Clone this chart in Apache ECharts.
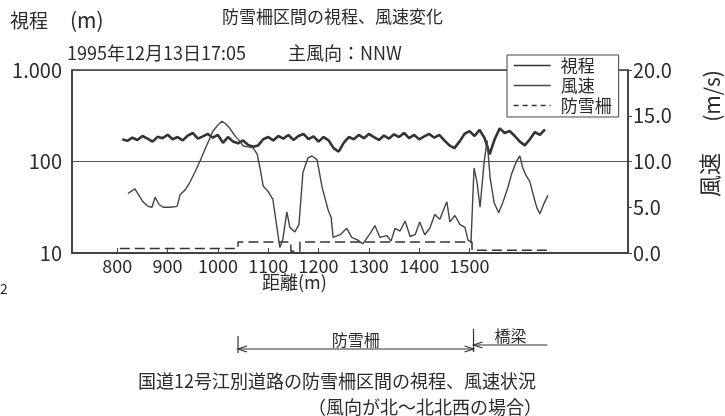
<!DOCTYPE html>
<html><head><meta charset="utf-8">
<script src="https://cdn.jsdelivr.net/npm/echarts@6/dist/echarts.min.js"></script>
<style>html,body{margin:0;padding:0;background:#fff}#c{width:725px;height:416px}</style>
</head><body><div id="c"></div>
<script>
// ---- data ----
const xTickValues = [800, 900, 1000, 1100, 1200, 1300, 1400, 1500];
const windTickValues = [0, 5, 10, 15, 20];
const visDist = [810,820,830,840,850,860,870,880,890,900,910,920,930,940,950,960,970,980,990,1000,
  1010,1020,1030,1040,1050,1060,1070,1080,1090,1100,1110,1120,1130,1140,1150,1160,1170,1180,1190,1200,
  1210,1220,1230,1240,1250,1260,1270,1280,1290,1300,1310,1320,1330,1340,1350,1360,1370,1380,1390,1400,
  1410,1420,1430,1440,1450,1460,1470,1480,1490,1500,1510,1520,1530,1540,1550,1560,1570,1580,1590,1600,
  1610,1620,1630,1640,1650];
const visibility = [175,168,182,172,190,178,165,186,180,196,175,185,170,192,205,178,188,200,182,195,
  160,185,165,158,170,152,145,150,175,185,170,190,178,195,172,190,200,176,188,165,
  185,170,140,128,160,185,175,195,180,200,185,172,192,178,198,185,205,180,195,175,
  188,200,182,195,170,150,140,165,200,215,190,222,180,120,175,230,205,215,190,165,
  150,175,210,195,225];
const windDist = [821,835,851,861,869,875,883,891,905,919,925,935,944,954,964,978,990,1000,1008,1016,
  1024,1034,1044,1050,1060,1070,1078,1084,1090,1099,1109,1117,1123,1129,1137,1143,1153,1161,1169,1179,
  1187,1197,1207,1219,1225,1229,1243,1256,1266,1278,1288,1302,1312,1322,1336,1344,1352,1362,1372,1382,
  1392,1401,1411,1421,1431,1441,1449,1455,1461,1471,1481,1491,1497,1503,1509,1515,1521,1529,1535,1541,
  1549,1558,1566,1576,1584,1594,1600,1606,1612,1620,1626,1634,1640,1648,1656];
const windSpeed = [6.5,7.0,5.6,5.1,5.0,6.1,5.3,5.0,5.0,5.1,6.4,6.9,7.7,8.8,10.0,11.8,13.3,14.0,14.4,14.1,
  13.6,12.8,12.2,11.7,11.6,11.5,10.8,9.2,7.3,6.8,5.9,2.9,0.6,1.5,4.5,2.8,2.3,3.1,8.8,10.4,
  10.6,10.2,7.2,4.7,3.9,1.7,2.0,2.7,1.7,1.4,1.0,2.1,3.0,1.7,1.9,1.3,2.7,2.4,3.5,1.8,
  2.0,3.4,2.0,2.7,4.2,3.7,4.8,5.6,3.4,4.1,3.1,2.8,1.4,1.2,9.3,7.7,5.0,9.9,12.3,8.2,
  5.5,4.4,5.5,7.1,8.7,10.1,10.6,9.3,8.5,7.8,6.5,4.9,4.3,5.4,6.3];
const fenceDist = [805, 1040, 1145, 1163, 1505, 1654];
const fenceLevel = [0.5, 1.2, 0.2, 1.2, 0.3, 0.3];
const sectionNames = ['防雪柵', '橋梁'];
const sectionBounds = [1040, 1508, 1655];

// ---- chart ----
const FONT = '"Noto Sans CJK JP", "Noto Sans", sans-serif';
const INK = '#2a2a2a';
const chart = echarts.init(document.getElementById('c'), null, {renderer: 'canvas'});
const zip = (a, b) => a.map((v, i) => [v, b[i]]);
const noSym = {color: 'rgba(0,0,0,0)', borderColor: 'rgba(0,0,0,0)', borderWidth: 0, opacity: 0};

const option = {
  animation: false,
  backgroundColor: '#fff',
  textStyle: {fontFamily: FONT, color: INK},
  grid: {left: 72, right: 97, top: 70, bottom: 163, show: true, borderColor: '#3a3a3a', borderWidth: 1.5, backgroundColor: 'transparent'},
  legend: {
    left: 507, top: 55, orient: 'vertical', padding: [2, 7, 3, 6], itemGap: 3,
    itemWidth: 37, itemHeight: 14, backgroundColor: '#fff', borderColor: '#444', borderWidth: 1,
    textStyle: {fontFamily: FONT, fontSize: 17, color: INK, padding: [0, 0, 0, 5]},
    itemStyle: noSym,
    data: [
      {name: '視程', lineStyle: {width: 1.3}, itemStyle: noSym},
      {name: '風速', lineStyle: {width: 1.3}, itemStyle: noSym},
      {name: '防雪柵', lineStyle: {width: 1.3, type: [5, 4]}, itemStyle: noSym}
    ]
  },
  xAxis: {
    type: 'value', min: 710, max: 1815,
    axisLine: {show: true, lineStyle: {color: '#3a3a3a', width: 1.5}},
    axisTick: {show: true, inside: true, length: 5, customValues: xTickValues, lineStyle: {color: '#444'}},
    axisLabel: {customValues: xTickValues, fontSize: 18, color: INK, margin: 4, fontFamily: FONT,
      formatter: v => String(v)},
    splitLine: {show: false}
  },
  yAxis: [
    {
      type: 'log', logBase: 10, min: 10, max: 1000,
      axisLine: {show: true, lineStyle: {color: '#3a3a3a', width: 1.5}},
      axisTick: {show: false},
      axisLabel: {fontSize: 20, color: INK, margin: 10, fontFamily: FONT,
        formatter: v => v >= 1000 ? '1.000' : String(v)},
      splitLine: {show: true, lineStyle: {color: '#555', width: 1}},
      minorTick: {show: false}, minorSplitLine: {show: false}
    },
    {
      type: 'value', min: 0, max: 20, interval: 5, position: 'right',
      axisLine: {show: true, lineStyle: {color: '#3a3a3a', width: 1.5}},
      axisTick: {show: true, length: 4, lineStyle: {color: '#444'}},
      axisLabel: {fontSize: 20, color: INK, margin: 5, fontFamily: FONT, formatter: v => v.toFixed(1)},
      splitLine: {show: false}
    }
  ],
  series: [
    {name: '視程', type: 'line', yAxisIndex: 0, data: zip(visDist, visibility), symbol: 'none',
      lineStyle: {color: '#333', width: 2.6}, itemStyle: {color: '#333'}, z: 3},
    {name: '風速', type: 'line', yAxisIndex: 1, data: zip(windDist, windSpeed), symbol: 'none',
      lineStyle: {color: '#444', width: 1.4}, itemStyle: {color: '#444'}, z: 4},
    {name: '防雪柵', type: 'line', yAxisIndex: 1, data: zip(fenceDist, fenceLevel), symbol: 'none', step: 'end',
      lineStyle: {color: '#333', width: 1.5, type: [10, 5]}, itemStyle: {color: '#333'}, z: 2}
  ]
};
chart.setOption(option);

// ---- free text and section annotation ----
const px = d => chart.convertToPixel({xAxisIndex: 0}, d);
const x0 = px(sectionBounds[0]), x1 = px(sectionBounds[1]), x2 = px(sectionBounds[2]);
const txt = (text, left, top, size, extra) => Object.assign({type: 'text', left, top,
  style: {text, font: `${size}px ${FONT}`, fill: INK}}, extra || {});
const ln = (pts, w) => ({type: 'polyline', shape: {points: pts}, style: {stroke: '#333', lineWidth: w || 1.2, fill: null}});
const yA = 349, yB = 345;
chart.setOption({graphic: [
  txt('視程', 10, 11, 19),
  txt('(m)', 70, 10, 21),
  txt('防雪柵区間の視程、風速変化', 222, 8, 17),
  txt('1995年12月13日17:05', 67, 44, 18),
  txt('主風向：NNW', 288, 44, 18),
  txt('距離(m)', 262, 273, 18),
  {type: 'text', x: 712, y: 96, rotation: Math.PI / 2,
    style: {text: '(m/s)', font: `21px ${FONT}`, fill: INK, align: 'center', verticalAlign: 'middle'}},
  {type: 'text', x: 710, y: 175, rotation: Math.PI / 2,
    style: {text: '風速', font: `22px ${FONT}`, fill: INK, align: 'center', verticalAlign: 'middle'}},
  txt('2', 0, 282, 14),
  // section annotation
  ln([[x0, 336], [x0, 353]]),
  ln([[x0, yA], [x1, yA]]),
  ln([[x0 + 9, yA - 3], [x0, yA], [x0 + 9, yA + 3]]),
  ln([[x1 - 9, yA - 3], [x1, yA], [x1 - 9, yA + 3]]),
  ln([[x1, 329], [x1, 352]]),
  ln([[x1, yB], [x2, yB]]),
  ln([[x1 + 9, yB - 3], [x1, yB], [x1 + 9, yB + 3]]),
  {type: 'text', x: (x0 + x1) / 2, y: 340, style: {text: sectionNames[0], font: `16px ${FONT}`, fill: INK, align: 'center', verticalAlign: 'middle'}},
  {type: 'text', x: (x1 + x2) / 2, y: 336, style: {text: sectionNames[1], font: `16px ${FONT}`, fill: INK, align: 'center', verticalAlign: 'middle'}},
  txt('国道12号江別道路の防雪柵区間の視程、風速状況', 138, 372, 18),
  txt('（風向が北～北北西の場合）', 308, 398, 18)
]});
</script></body></html>
